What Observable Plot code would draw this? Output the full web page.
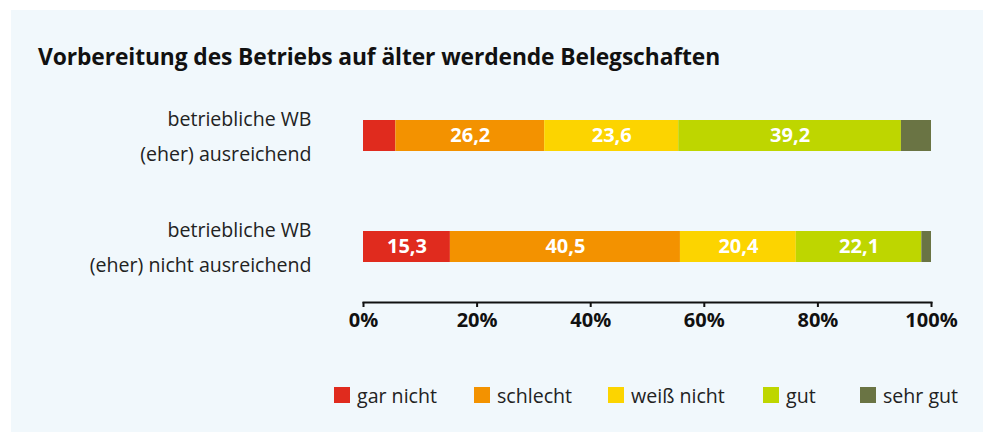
<!DOCTYPE html>
<html>
<head>
<meta charset="utf-8">
<script src="https://cdn.jsdelivr.net/npm/d3@7"></script>
<script src="https://cdn.jsdelivr.net/npm/@observablehq/plot@0.6"></script>
<style>
  html, body { margin: 0; padding: 0; background: #ffffff; }
  body { font-family: "Open Sans", "Noto Sans", sans-serif; }
  #wrap { position: relative; width: 983px; height: 432px; overflow: hidden; }
  #panel { position: absolute; left: 11px; top: 10px; right: 0; bottom: 0; background: #f1f8fc; }
  #title { position: absolute; left: 38px; top: 42px; font-size: 22.8px; font-weight: bold; color: #111; line-height: 30px; white-space: nowrap; letter-spacing: -0.1px; }
  #chart { position: absolute; left: 0; top: 90px; }
  #legend { position: absolute; left: 0; top: 383px; width: 983px; height: 24px; }
  .item { position: absolute; top: 0; height: 24px; display: flex; align-items: center; font-size: 19.6px; color: #222; white-space: nowrap; }
  .sw { width: 16px; height: 16px; margin-right: 7px; flex: none; }
</style>
</head>
<body>
<div id="wrap">
  <div id="panel"></div>
  <div id="title">Vorbereitung des Betriebs auf älter werdende Belegschaften</div>
  <div id="chart"></div>
  <div id="legend"></div>
</div>
<script>
// ---- data ----
const groups = ["ausreichend", "nicht ausreichend"];
const groupLabels = ["betriebliche WB\n(eher) ausreichend", "betriebliche WB\n(eher) nicht ausreichend"];
const categories = ["gar nicht", "schlecht", "weiß nicht", "gut", "sehr gut"];
const colors = ["#e02b1e", "#f39200", "#fcd400", "#bed600", "#6a7444"];
const valuesAusreichend = [5.7, 26.2, 23.6, 39.2, 5.3];
const valuesNichtAusreichend = [15.3, 40.5, 20.4, 22.1, 1.7];
const xTicks = [0, 20, 40, 60, 80, 100];
const legendLefts = [334, 474, 608, 763, 860];

const seriesByGroup = [valuesAusreichend, valuesNichtAusreichend];
const data = [];
groups.forEach((g, gi) => {
  categories.forEach((c, ci) => {
    data.push({ group: g, category: c, value: seriesByGroup[gi][ci] });
  });
});
const labelData = groups.map((g, i) => ({ group: g, label: groupLabels[i] }));
const fmt = v => v.toFixed(1).replace(".", ",");

const chart = Plot.plot({
  width: 983,
  height: 250,
  marginLeft: 363,
  marginRight: 52,
  marginTop: 29,
  marginBottom: 38,
  insetBottom: 40,
  style: { background: "transparent", fontFamily: "'Open Sans', 'Noto Sans', sans-serif", color: "#111" },
  x: { domain: [0, 100], axis: null },
  y: { domain: groups, axis: null, paddingInner: 0.723, paddingOuter: 0 },
  color: { domain: categories, range: colors },
  marks: [
    Plot.barX(data, Plot.stackX({ x: "value", y: "group", fill: "category" })),
    Plot.text(data, Plot.stackX({
      x: "value", y: "group", z: "category",
      text: d => d.value >= 10 ? fmt(d.value) : "",
      fill: "white", fontWeight: "bold", fontSize: 20
    })),
    Plot.text(labelData, {
      y: "group", text: "label", frameAnchor: "left", dx: -52, dy: -4,
      textAnchor: "end", lineHeight: 1.83, fontSize: 19.6, fill: "#222"
    }),
    Plot.frame({ anchor: "bottom", stroke: "#111", strokeWidth: 2 }),
    Plot.axisX({
      ticks: xTicks, tickFormat: d => d + "%", tickSize: 5, tickPadding: 5,
      fontSize: 20, fontWeight: "bold", fill: "#111", stroke: "#111", strokeWidth: 2, label: null
    })
  ]
});
document.getElementById("chart").appendChild(chart);

// legend
const legend = document.getElementById("legend");
categories.forEach((c, i) => {
  const item = document.createElement("div");
  item.className = "item";
  item.style.left = legendLefts[i] + "px";
  const sw = document.createElement("div");
  sw.className = "sw";
  sw.style.background = colors[i];
  const t = document.createElement("span");
  t.textContent = c;
  item.appendChild(sw);
  item.appendChild(t);
  legend.appendChild(item);
});
</script>
</body>
</html>
